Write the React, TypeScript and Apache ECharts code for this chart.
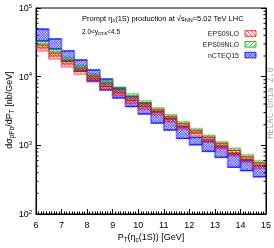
import React, { useEffect, useRef } from 'react';
import * as echarts from 'echarts';

const binEdges = [6, 6.5, 7, 7.5, 8, 8.5, 9, 9.5, 10, 10.5, 11, 11.5, 12, 12.5, 13, 13.5, 14, 14.5, 15];

const eps09loCentral = [26200, 20000, 15300, 11900, 9250, 7190, 5780, 4500, 3680, 3060, 2420, 1910, 1510, 1220, 978, 773, 622, 509];
const eps09loHigh = [28800, 22000, 16800, 13100, 10200, 7910, 6360, 4950, 4050, 3370, 2660, 2100, 1660, 1340, 1080, 850, 684, 560];
const eps09loLow = [23800, 18200, 13900, 10800, 8410, 6540, 5250, 4090, 3350, 2780, 2200, 1740, 1370, 1110, 889, 703, 565, 463];

const eps09nloCentral = [29900, 22900, 17500, 13400, 10200, 8090, 6500, 5230, 4140, 3270, 2590, 2045, 1620, 1300, 1050, 841, 677, 553];
const eps09nloHigh = [32300, 24700, 18900, 14500, 11000, 8740, 7020, 5650, 4470, 3530, 2800, 2210, 1750, 1400, 1130, 908, 731, 597];
const eps09nloLow = [27700, 21200, 16200, 12400, 9440, 7490, 6020, 4840, 3830, 3030, 2400, 1890, 1500, 1200, 970, 779, 627, 512];

const ncteqHigh = [49400, 35400, 23700, 17500, 12500, 9250, 6840, 5140, 4140, 3110, 2460, 1860, 1310, 1150, 955, 750, 597, 505];
const ncteqLow = [33100, 25300, 16900, 12100, 8650, 6400, 4890, 3680, 2860, 2110, 1670, 1260, 1020, 820, 670, 480, 428, 349];

const xTickValues = [6, 7, 8, 9, 10, 11, 12, 13, 14, 15];
const yMajorTicks = [100, 1000, 10000, 100000];
const yMinorTicks = [200, 300, 400, 500, 600, 700, 800, 900, 2000, 3000, 4000, 5000, 6000, 7000, 8000, 9000, 20000, 30000, 40000, 50000, 60000, 70000, 80000, 90000];

const legendNames = ['EPS09LO', 'EPS09NLO', 'nCTEQ15'];

const FONT = 'Liberation Sans, Arial, sans-serif';

const RED = [255, 0, 0];
const GREEN = [0, 170, 0];
const BLUE = [0, 0, 255];
const rgba = (c: number[], a: number) => `rgba(${c[0]},${c[1]},${c[2]},${a})`;

function hatchLines(x0: number, y0: number, x1: number, y1: number, dir: string, s: number, stroke: string, lw: number) {
  const out: any[] = [];
  if (dir === 'back') {
    const cMin = x0 - y1, cMax = x1 - y0;
    for (let c = Math.ceil(cMin / s) * s; c <= cMax; c += s) {
      const xs = Math.max(x0, y0 + c), xe = Math.min(x1, y1 + c);
      if (xe - xs > 0.3) out.push({ type: 'line', silent: true, shape: { x1: xs, y1: xs - c, x2: xe, y2: xe - c }, style: { stroke, lineWidth: lw } });
    }
  } else {
    const cMin = x0 + y0, cMax = x1 + y1;
    for (let c = Math.ceil(cMin / s) * s; c <= cMax; c += s) {
      const xs = Math.max(x0, c - y1), xe = Math.min(x1, c - y0);
      if (xe - xs > 0.3) out.push({ type: 'line', silent: true, shape: { x1: xs, y1: c - xs, x2: xe, y2: c - xe }, style: { stroke, lineWidth: lw } });
    }
  }
  return out;
}

function bandSeries(name: string, lo: number[], hi: number[], center: number[] | null, color: number[], dirs: string[], spacing: number, centerColor: string, z: number) {
  const data = lo.map((l, i) => [binEdges[i], binEdges[i + 1], l, hi[i], center ? center[i] : hi[i]]);
  return {
    type: 'custom',
    name,
    data,
    z,
    clip: true,
    encode: { x: [0, 1], y: [2, 3] },
    renderItem: (params: any, api: any) => {
      const a = api.coord([api.value(0), api.value(3)]);
      const b = api.coord([api.value(1), api.value(2)]);
      const x0 = a[0], y0 = a[1], x1 = b[0], y1 = b[1];
      const children: any[] = [];
      children.push({ type: 'rect', silent: true, shape: { x: x0, y: y0, width: x1 - x0, height: y1 - y0 }, style: { fill: rgba(color, 0.1), stroke: rgba(color, 0.4), lineWidth: 1.8 } });
      dirs.forEach((d) => children.push(...hatchLines(x0, y0, x1, y1, d, spacing, rgba(color, 0.75), 0.7)));
      if (center) {
        const c = api.coord([api.value(0), api.value(4)]);
        children.push({ type: 'line', silent: true, shape: { x1: x0, y1: c[1], x2: x1, y2: c[1] }, style: { stroke: centerColor, lineWidth: 1 } });
      } else {
        children.push({ type: 'line', silent: true, shape: { x1: x0, y1: y0, x2: x1, y2: y0 }, style: { stroke: rgba(color, 0.9), lineWidth: 0.9 } });
        children.push({ type: 'line', silent: true, shape: { x1: x0, y1: y1, x2: x1, y2: y1 }, style: { stroke: rgba(color, 0.9), lineWidth: 0.9 } });
      }
      return { type: 'group', children };
    },
  };
}

function legendGraphics() {
  const items: any[] = [];
  const cfg = [
    { color: RED, dirs: ['back'], s: 4 },
    { color: GREEN, dirs: ['fwd'], s: 4 },
    { color: BLUE, dirs: ['back', 'fwd'], s: 2.5 },
  ];
  legendNames.forEach((n, i) => {
    const y = 33.5 + i * 10.8;
    items.push({ type: 'text', x: 239, y, style: { text: n, font: `7px ${FONT}`, fill: '#222', align: 'right', verticalAlign: 'middle' } });
    const x0 = 245, x1 = 256, y0 = y - 2.8, y1 = y + 2.8;
    items.push({ type: 'rect', shape: { x: x0, y: y0, width: x1 - x0, height: y1 - y0 }, style: { fill: rgba(cfg[i].color, 0.08), stroke: rgba(cfg[i].color, 0.8), lineWidth: 1 } });
    cfg[i].dirs.forEach((d) => items.push(...hatchLines(x0, y0, x1, y1, d, cfg[i].s, rgba(cfg[i].color, 0.8), 0.7)));
  });
  return items;
}

export default function App() {
  const ref = useRef<HTMLDivElement>(null);
  useEffect(() => {
    if (!ref.current) return;
    const chart = echarts.init(ref.current, null, { renderer: 'svg' });
    const supRich = {
      b: { fontSize: 9, fontFamily: FONT, color: '#000' },
      s: { fontSize: 6, fontFamily: FONT, color: '#000', padding: [0, 0, 5, 0] },
    };
    const sub = (fs: number, pad: number) => ({ fontSize: fs, fontFamily: FONT, color: '#000', padding: [pad, 0, 0, 0] });
    const option: any = {
      animation: false,
      grid: { left: 36, right: 8, top: 8, bottom: 34, show: true, borderColor: '#000', borderWidth: 1, backgroundColor: 'transparent' },
      xAxis: [
        {
          type: 'value', min: 6, max: 15, interval: 1,
          axisLine: { show: true, lineStyle: { color: '#000', width: 1 } },
          axisTick: { show: true, inside: true, length: 5, lineStyle: { color: '#000' } },
          minorTick: { show: true, splitNumber: 10, length: 2.5, lineStyle: { color: '#000' } },
          splitLine: { show: false },
          axisLabel: { fontSize: 9, fontFamily: FONT, color: '#000', margin: 6, formatter: (v: number) => (xTickValues.includes(v) ? String(v) : '') },
        },
      ],
      yAxis: [
        {
          type: 'log', logBase: 10, min: 100, max: 100000, position: 'left',
          axisLine: { show: true, lineStyle: { color: '#000', width: 1 } },
          axisTick: { show: true, inside: true, length: 5, lineStyle: { color: '#000' } },
          splitLine: { show: false },
          axisLabel: {
            margin: 4, formatter: (v: number) => (yMajorTicks.includes(Math.round(v)) ? `{b|10}{s|${Math.round(Math.log10(v))}}` : ''),
            rich: supRich,
          },
        },
        {
          type: 'log', logBase: 10, min: 100, max: 100000, position: 'right',
          axisLine: { show: true, lineStyle: { color: '#000', width: 1 } },
          axisTick: { show: true, inside: true, length: 5, lineStyle: { color: '#000' } },
          splitLine: { show: false },
          axisLabel: { show: false },
        },
      ],
      series: [
        bandSeries('nCTEQ15', ncteqLow, ncteqHigh, null, BLUE, ['back', 'fwd'], 2.6, '#0000ff', 3),
        bandSeries('EPS09NLO', eps09nloLow, eps09nloHigh, eps09nloCentral, GREEN, ['fwd'], 4, 'rgb(40,140,40)', 4),
        bandSeries('EPS09LO', eps09loLow, eps09loHigh, eps09loCentral, RED, ['back'], 4, 'rgb(255,0,0)', 5),
        {
          type: 'custom', name: 'minorTicks', z: 10, silent: true, clip: false,
          data: yMinorTicks.map((v) => [v]),
          encode: { y: 0 },
          renderItem: (params: any, api: any) => {
            const l = api.coord([6, api.value(0)]);
            const r = api.coord([15, api.value(0)]);
            return {
              type: 'group', children: [
                { type: 'line', shape: { x1: l[0], y1: l[1], x2: l[0] + 2.5, y2: l[1] }, style: { stroke: '#000', lineWidth: 1 } },
                { type: 'line', shape: { x1: r[0], y1: r[1], x2: r[0] - 2.5, y2: r[1] }, style: { stroke: '#000', lineWidth: 1 } },
              ],
            };
          },
        },
      ],
      graphic: [
        {
          type: 'text', x: 82, y: 18,
          style: {
            text: '{a|Prompt η}{s|c}{a|(1S) production at √s}{s|NN}{a|=5.02 TeV LHC}',
            verticalAlign: 'middle',
            rich: { a: { fontSize: 7.5, fontFamily: FONT, color: '#222' }, s: sub(5.5, 4) },
          },
        },
        {
          type: 'text', x: 82, y: 31,
          style: {
            text: '{a|2.0<y}{s|cms}{a|<4.5}',
            verticalAlign: 'middle',
            rich: { a: { fontSize: 6.5, fontFamily: FONT, color: '#222' }, s: sub(5, 3.5) },
          },
        },
        ...legendGraphics(),
        {
          type: 'text', x: 9, y: 110, rotation: Math.PI / 2,
          style: {
            text: '{a|dσ}{s|pPb}{a|/dP}{s|T}{a| [nb/GeV]}',
            align: 'center', verticalAlign: 'middle',
            rich: { a: { fontSize: 9, fontFamily: FONT, color: '#000' }, s: sub(6.5, 4) },
          },
        },
        {
          type: 'text', x: 151, y: 237,
          style: {
            text: '{a|P}{s|T}{a|(η}{s|c}{a|(1S)) [GeV]}',
            align: 'center', verticalAlign: 'middle',
            rich: { a: { fontSize: 9, fontFamily: FONT, color: '#000' }, s: sub(6.5, 4) },
          },
        },
        {
          type: 'text', x: 270, y: 103, rotation: Math.PI / 2,
          style: { text: 'HELAC-Onia 2.0', font: '8.5px DejaVu Sans Mono, monospace', fill: '#aaa', align: 'center', verticalAlign: 'middle' },
        },
      ],
    };
    chart.setOption(option);
    return () => chart.dispose();
  }, []);
  return <div ref={ref} style={{ position: 'fixed', left: 0, top: 0, width: 274, height: 248 }} />;
}
